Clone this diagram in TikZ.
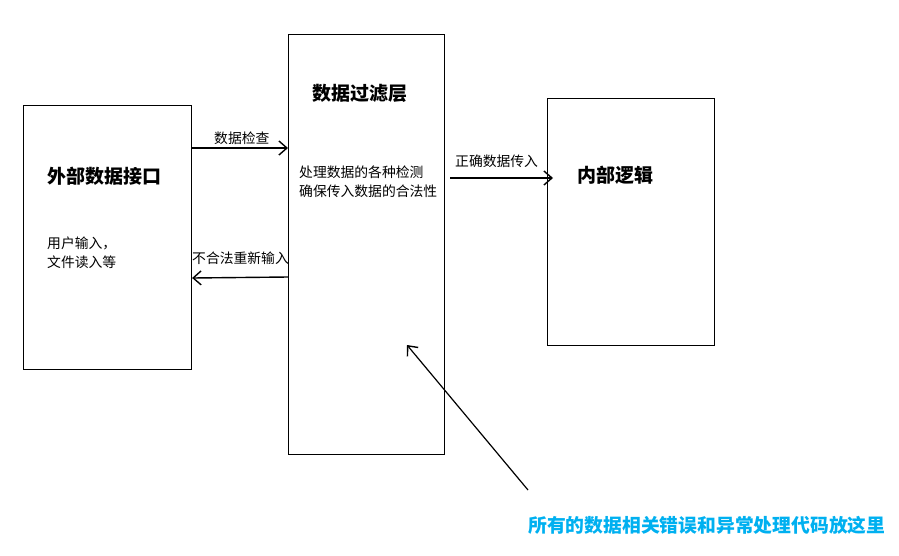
\documentclass[tikz,border=0pt]{standalone}
\usepackage{fontspec}
\setmainfont{Liberation Sans}
\newfontfamily\cjk{Noto Sans CJK SC}
\usetikzlibrary{arrows.meta}
\definecolor{noteblue}{RGB}{0,176,240}
\begin{document}
\begin{tikzpicture}[x=1pt,y=-1pt,
  box/.style={draw,line width=1.1pt,inner sep=0,anchor=north west},
  arr/.style={draw,line width=1.4pt,-{Straight Barb[length=8pt,width=14pt,line width=1.4pt]}},
  ttl/.style={anchor=west,inner sep=0,font=\cjk\fontsize{19}{21}\selectfont\bfseries},
  sm/.style={anchor=west,inner sep=0,font=\cjk\fontsize{13.8}{16}\selectfont},
  note/.style={anchor=west,inner sep=0,text=noteblue,font=\cjk\fontsize{18.8}{21}\selectfont\bfseries}]
\useasboundingbox (0,0) rectangle (899,555);
\node[box,minimum width=168pt,minimum height=264pt] (L) at (23,105) {};
\node[box,minimum width=156pt,minimum height=420pt] (M) at (288,34) {};
\node[box,minimum width=167pt,minimum height=247pt] (R) at (547,98) {};
\node[ttl] (tL) at (47,176) {外部数据接口};
\node[sm] (sL1) at (47,243) {用户输入，};
\node[sm] (sL2) at (47,262) {文件读入等};
\node[ttl] (tM) at (312,93) {数据过滤层};
\node[sm] (sM1) at (299,172) {处理数据的各种检测};
\node[sm] (sM2) at (299,191) {确保传入数据的合法性};
\node[ttl] (tR) at (577,175) {内部逻辑};
\node[sm] (a1) at (214,138) {数据检查};
\node[sm] (a2) at (192,258) {不合法重新输入};
\node[sm] (a3) at (455,161) {正确数据传入};
\draw[arr] (L.east |- 0,148) -- (M.west |- 0,148);
\draw[arr] (M.west |- 0,277) -- (L.east |- 0,278);
\coordinate (s3) at (450,178);
\coordinate (e3) at (553,178);
\draw[arr] (s3) -- (e3);
\coordinate (tail) at (528,490);
\coordinate (head) at (407,345);
\draw[arr,line width=1.2pt] (tail) -- (head);
\node[note] (nt) at (528,525) {所有的数据相关错误和异常处理代码放这里};
\end{tikzpicture}
\end{document}
